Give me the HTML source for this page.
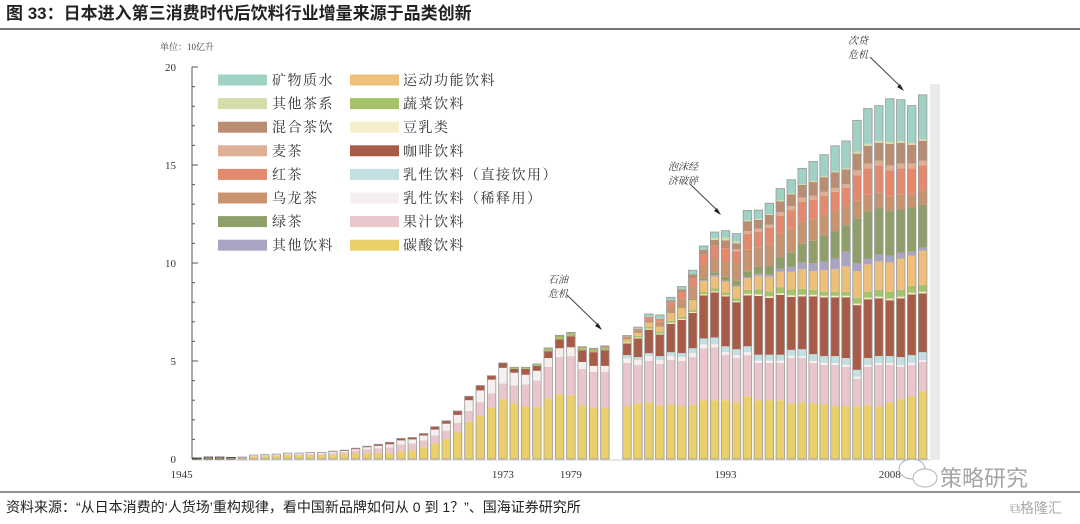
<!DOCTYPE html>
<html><head><meta charset="utf-8">
<style>
html,body{margin:0;padding:0;background:#fff;width:1080px;height:524px;overflow:hidden}
svg{display:block}
.t{font-family:"Liberation Serif","Noto Serif CJK SC",serif}
.s{font-family:"Liberation Sans","Noto Sans CJK SC",sans-serif}
</style></head><body>
<svg id="chart" width="1080" height="524" viewBox="0 0 1080 524">
  <text x="6" y="19" class="s" font-size="17" font-weight="bold" fill="#222">图 33：日本进入第三消费时代后饮料行业增量来源于品类创新</text>
  <line x1="0" y1="29" x2="1080" y2="29" stroke="#222" stroke-width="1.2"/>
  <rect x="930" y="84" width="10" height="376" fill="#eaeaea"/>
  <text x="160" y="50" class="t" font-size="9" fill="#444">单位：10亿升</text>
  <g id="axis"></g>
  <g id="bars"></g>
  <g id="legend"></g>
  <g id="xlabels"></g>
  <g>
    <text x="548" y="283" class="t" font-size="10" font-style="italic" fill="#333">石油</text>
    <text x="548" y="297" class="t" font-size="10" font-style="italic" fill="#333">危机</text>
    <line x1="567" y1="295" x2="600" y2="327" stroke="#444" stroke-width="1"/>
    <polygon points="602,330 595,326 598,323" fill="#222"/>
  </g>
  <g>
    <text x="668" y="170" class="t" font-size="10" font-style="italic" fill="#333">泡沫经</text>
    <text x="668" y="184" class="t" font-size="10" font-style="italic" fill="#333">济破碎</text>
    <line x1="690" y1="184" x2="719" y2="212" stroke="#444" stroke-width="1"/>
    <polygon points="721,215 714,211 717,208" fill="#222"/>
  </g>
  <g>
    <text x="848" y="44" class="t" font-size="10" font-style="italic" fill="#333">次贷</text>
    <text x="848" y="58" class="t" font-size="10" font-style="italic" fill="#333">危机</text>
    <line x1="870" y1="57" x2="902" y2="88" stroke="#444" stroke-width="1"/>
    <polygon points="904,91 897,87 900,84" fill="#222"/>
  </g>
  <g opacity="0.75">
    <ellipse cx="912" cy="469" rx="13" ry="10" fill="#fff" stroke="#999"/>
    <ellipse cx="925" cy="478" rx="12" ry="9" fill="#fff" stroke="#999"/>
    <text x="940" y="486" class="s" font-size="22" fill="#888">策略研究</text>
  </g>
  <line x1="0" y1="492" x2="1080" y2="492" stroke="#222" stroke-width="1"/>
  <text x="6" y="512" class="s" font-size="14" fill="#222">资料来源：“从日本消费的‘人货场’重构规律，看中国新品牌如何从 0 到 1？”、国海证券研究所</text>
  <text x="1010" y="513" class="s" font-size="14" fill="#aaa">⧉格隆汇</text>
</svg>
<script>
// ---- data ----
const years1 = [1946,1947,1948,1949,1950,1951,1952,1953,1954,1955,1956,1957,1958,1959,1960,1961,1962,1963,1964,1965,1966,1967,1968,1969,1970,1971,1972,1973,1974,1975,1976,1977,1978,1979,1980,1981,1982];
const years2 = [1984,1985,1986,1987,1988,1989,1990,1991,1992,1993,1994,1995,1996,1997,1998,1999,2000,2001,2002,2003,2004,2005,2006,2007,2008,2009,2010,2011];
const tickYears = [1945,1973,1979,1993,2008];
const yTicks = [0,5,10,15,20];
// group 1 series (1946-1982)
const carb1 = [0.03,0.05,0.05,0.04,0.05,0.12,0.14,0.15,0.18,0.18,0.2,0.2,0.22,0.25,0.28,0.3,0.3,0.3,0.4,0.45,0.6,0.8,1.0,1.35,1.9,2.2,2.6,3.05,2.85,2.7,2.65,3.1,3.3,3.25,2.75,2.6,2.6];
const juice1 = [0,0.02,0.02,0.02,0.02,0.04,0.04,0.05,0.06,0.06,0.07,0.07,0.1,0.1,0.15,0.2,0.25,0.3,0.35,0.35,0.35,0.4,0.45,0.5,0.55,0.7,0.75,0.8,0.9,1.1,1.35,1.6,1.9,2.0,1.85,1.85,1.85];
const dilute1 = [0,0,0,0,0,0.02,0.02,0.03,0.04,0.04,0.04,0.04,0.05,0.06,0.07,0.1,0.12,0.15,0.2,0.2,0.25,0.3,0.35,0.4,0.55,0.6,0.7,0.8,0.65,0.5,0.5,0.45,0.45,0.45,0.35,0.3,0.3];
const coffee1 = [0.02,0.03,0.03,0.02,0.03,0.02,0.02,0.02,0.02,0.02,0.02,0.02,0.03,0.04,0.05,0.05,0.08,0.1,0.1,0.1,0.1,0.15,0.15,0.2,0.2,0.25,0.2,0.25,0.2,0.3,0.25,0.35,0.45,0.55,0.6,0.7,0.8];
const veg1 = [0,0,0,0,0,0,0,0,0,0,0,0,0,0,0,0,0,0,0,0,0,0,0,0,0,0,0,0,0.08,0.08,0.1,0.12,0.15,0.15,0.12,0.12,0.12];
const oolong1 = [0,0,0,0,0,0,0,0,0,0,0,0,0,0,0,0,0,0,0,0,0,0,0,0,0,0,0,0,0,0,0,0.05,0.06,0.06,0.06,0.08,0.1];
// group 2 series (1984-2011)
const carb2 = [2.7,2.85,2.9,2.75,2.8,2.7,2.75,3.0,3.0,3.0,2.9,3.2,3.0,3.0,3.0,2.85,2.9,2.85,2.8,2.7,2.7,2.7,2.75,2.7,2.9,3.05,3.2,3.45];
const juice2 = [2.2,1.95,2.1,2.1,2.25,2.3,2.45,2.65,2.7,2.3,2.25,2.1,1.9,1.9,1.9,2.3,2.25,2.05,2.0,2.1,2.0,1.4,1.95,2.1,1.9,1.65,1.6,1.5];
const dilute2 = [0.25,0.25,0.25,0.2,0.2,0.2,0.2,0.2,0.15,0.15,0.15,0.15,0.12,0.12,0.12,0.12,0.1,0.1,0.1,0.1,0.1,0.1,0.1,0.1,0.1,0.1,0.1,0.1];
const direct2 = [0.15,0.15,0.15,0.2,0.2,0.2,0.25,0.3,0.35,0.3,0.3,0.3,0.3,0.3,0.3,0.3,0.35,0.35,0.35,0.35,0.35,0.35,0.35,0.35,0.35,0.4,0.4,0.4];
const coffee2 = [0.6,0.95,1.2,1.1,1.45,1.7,1.8,2.2,2.3,2.55,2.4,2.6,3.0,2.9,3.05,2.7,2.7,2.95,3.0,3.0,3.1,3.3,3.0,2.95,2.85,3.0,3.1,3.0];
const soy2 = [0.05,0.05,0.05,0.05,0.05,0.05,0.05,0.05,0.05,0.05,0.05,0.08,0.08,0.08,0.08,0.08,0.08,0.08,0.08,0.08,0.08,0.08,0.08,0.08,0.08,0.08,0.08,0.08];
const veg2 = [0.05,0.08,0.1,0.1,0.1,0.1,0.1,0.12,0.15,0.15,0.15,0.2,0.25,0.25,0.3,0.3,0.3,0.25,0.2,0.2,0.2,0.3,0.3,0.35,0.35,0.35,0.35,0.35];
const sports2 = [0.1,0.15,0.2,0.25,0.4,0.45,0.5,0.55,0.6,0.55,0.6,0.6,0.7,0.75,0.8,0.9,1.0,0.95,1.1,1.15,1.3,1.35,1.4,1.45,1.5,1.6,1.55,1.75];
const other2 = [0,0,0,0,0,0,0,0.05,0.08,0.05,0.05,0.05,0.1,0.1,0.15,0.25,0.35,0.4,0.45,0.55,0.75,0.4,0.3,0.35,0.35,0.3,0.2,0.15];
const green2 = [0,0,0,0,0,0.05,0.08,0.1,0.15,0.2,0.25,0.3,0.35,0.45,0.6,0.75,0.95,1.15,1.3,1.4,1.35,2.3,2.4,2.35,2.25,2.2,2.25,2.2];
const oolong2 = [0.1,0.15,0.2,0.25,0.35,0.45,0.6,0.7,0.75,0.8,0.9,1.1,1.0,1.1,1.2,1.2,1.15,1.1,1.05,1.0,0.95,0.9,0.85,0.8,0.75,0.75,0.7,0.7];
const black2 = [0.05,0.05,0.1,0.15,0.2,0.3,0.45,0.5,0.6,0.65,0.6,0.8,0.8,0.85,0.9,0.95,1.0,1.0,1.0,1.0,0.95,1.3,1.35,1.4,1.35,1.35,1.3,1.3];
const barley2 = [0,0,0,0,0,0,0,0,0,0,0.1,0.15,0.15,0.15,0.2,0.2,0.2,0.2,0.2,0.2,0.2,0.25,0.25,0.25,0.25,0.25,0.25,0.25];
const mixed2 = [0,0,0,0,0.1,0.15,0.2,0.25,0.3,0.4,0.3,0.5,0.45,0.5,0.55,0.6,0.65,0.7,0.75,0.8,0.75,0.85,0.9,0.9,1.1,1.05,0.95,1.0];
const otherTea2 = [0,0,0,0,0,0,0,0,0.1,0.15,0.1,0.05,0.05,0.05,0.05,0.05,0.05,0.05,0.05,0.05,0.05,0.1,0.1,0.1,0.1,0.1,0.1,0.1];
const mineral2 = [0.05,0.1,0.15,0.2,0.15,0.15,0.2,0.2,0.3,0.35,0.4,0.5,0.45,0.55,0.6,0.7,0.8,1.0,1.1,1.3,1.4,1.6,1.8,1.8,2.2,2.1,1.9,2.25];

const Z1 = years1.map(()=>0);
// stack order bottom → top
const seriesNames = ['碳酸饮料','果汁饮料','乳性饮料（稀释用）','乳性饮料（直接饮用）','咖啡饮料','豆乳类','蔬菜饮料','运动功能饮料','其他饮料','绿茶','乌龙茶','红茶','麦茶','混合茶饮','其他茶系','矿物质水'];
const seriesKeys = ['carbonated','juice','milk-dilute','milk-direct','coffee','soy-milk','vegetable','sports','other-drinks','green-tea','oolong','black-tea','barley-tea','mixed-tea','other-tea','mineral-water'];
const seriesColors = ['#ebcf6a','#e9c5cc','#f5efef','#c2dfe1','#a85b47','#f6efcb','#a5c36a','#edbf78','#aaa4c2','#8f9f69','#c8946f','#e3896e','#ddaf95','#b98d71','#d4dcaa','#9fd1c5'];
const seriesG1 = [carb1,juice1,dilute1,Z1,coffee1,Z1,veg1,Z1,Z1,Z1,oolong1,Z1,Z1,Z1,Z1,Z1];
const seriesG2 = [carb2,juice2,dilute2,direct2,coffee2,soy2,veg2,sports2,other2,green2,oolong2,black2,barley2,mixed2,otherTea2,mineral2];

// ---- scales ----
const NS='http://www.w3.org/2000/svg';
const Y0=459, PXU=19.6;
function yScale(v){return Y0 - v*PXU;}
function xOfYear(yr){
  const i1 = years1.indexOf(yr);
  if(i1>=0) return 197 + i1*11.33;
  const i2 = years2.indexOf(yr);
  if(i2>=0) return 627 + i2*10.95;
  if(yr < years1[0]) return 197 - (years1[0]-yr)*11.33;
  return 627 + (yr-years2[0])*10.95;
}
function mk(tag, attrs, parent){const e=document.createElementNS(NS,tag);for(const k in attrs)e.setAttribute(k,attrs[k]);parent.appendChild(e);return e;}

// axis
const ax=document.getElementById('axis');
const axLine = mk('line',{x1:192,y1:yScale(20),x2:192,y2:Y0,stroke:'#555','stroke-width':1},ax);


for(let v=0; v<=20; v++){
  const major = yTicks.indexOf(v)>=0;
  const tk = mk('line',{x1:192,y1:yScale(v),x2:major?198:195,y2:yScale(v),stroke:'#555','stroke-width':1},ax);
  
  
}
yTicks.forEach(v=>{
  const t=mk('text',{x:176,y:yScale(v)+4,'text-anchor':'end','font-size':11,fill:'#333',class:'t'},ax);
  t.textContent=v;
  
  
});
const base = mk('line',{x1:192,y1:Y0+1,x2:930,y2:Y0+1,stroke:'#ccc','stroke-width':1},ax);



// bars
const bg=document.getElementById('bars');
function drawGroup(years, series, bw){
  years.forEach((yr,i)=>{
    const cx=xOfYear(yr);
    let acc=0;
    const g=mk('g',{},bg);
    
    
    series.forEach((arr,s)=>{
      const v=arr[i]; if(!v) return;
      const r=mk('rect',{x:cx-bw/2,y:yScale(acc+v),width:bw,height:v*PXU,fill:seriesColors[s]},g);
      
      
      acc+=v;
    });
    const o=mk('rect',{x:cx-bw/2,y:yScale(acc),width:bw,height:acc*PXU,fill:'none',stroke:i<4&&years===years1?'#333':'#9a9a9a','stroke-width':0.8},g);
    
    
  });
}
drawGroup(years1, seriesG1, 8.5);
drawGroup(years2, seriesG2, 8.5);

// x labels
const xl=document.getElementById('xlabels');
tickYears.forEach(yr=>{
  const t=mk('text',{x:xOfYear(yr)+(yr===1945?-4:0),y:478,'text-anchor':'middle','font-size':11,fill:'#333',class:'t'},xl);
  t.textContent=yr;
  
  
});

// legend: two columns of 8; left column = top of stack (reverse order)
const lg=document.getElementById('legend');
const col1=[15,14,13,12,11,10,9,8], col2=[7,6,5,4,3,2,1,0];
[col1,col2].forEach((col,c)=>{
  col.forEach((s,r)=>{
    const y=80+r*23.6;
    const g=mk('g',{},lg);
    
    
    mk('rect',{x:c?350:218,y:y-5.5,width:49,height:11,fill:seriesColors[s]},g);
    const t=mk('text',{x:c?403:272,y:y+5,'font-size':14,fill:'#333',class:'t','letter-spacing':'1.5'},g);
    t.textContent=seriesNames[s];
  });
});
</script>
</body></html>
